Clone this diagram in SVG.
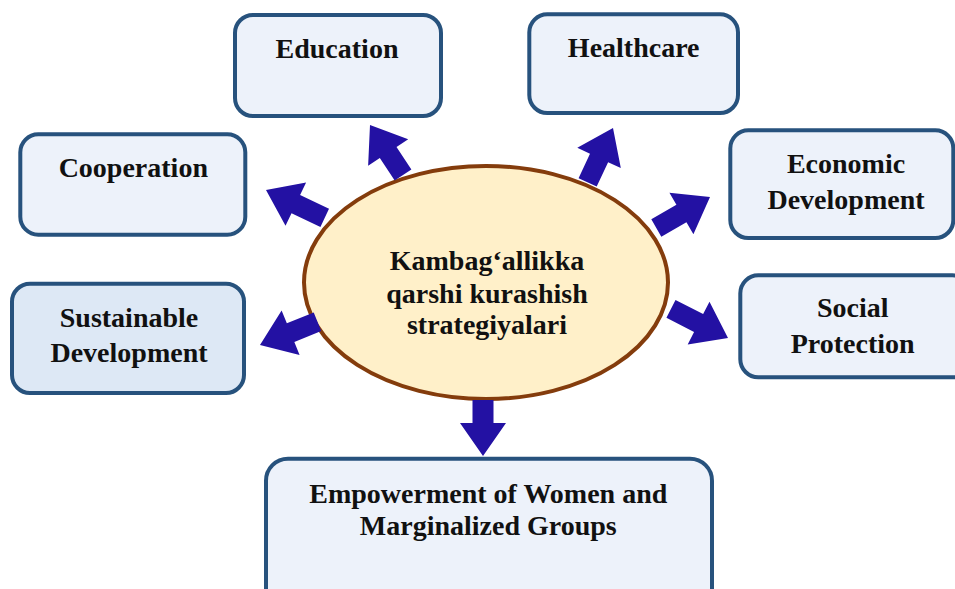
<svg xmlns="http://www.w3.org/2000/svg" width="955" height="589" viewBox="0 0 955 589">
<style>
.box{fill:#edf2fa;stroke:#27527d;stroke-width:4}
.box2{fill:#dde8f5;stroke:#27527d;stroke-width:4}
.t{font-family:"Liberation Serif","Times New Roman",serif;font-weight:bold;font-size:28px;fill:#111;text-anchor:middle}
.arr{fill:#2311a3}
</style>
<rect width="955" height="589" fill="#ffffff"/>
<g id="center">
<ellipse cx="486" cy="282.5" rx="182" ry="116.5" fill="#fff0c9" stroke="#843c0c" stroke-width="4"/>
<text class="t" x="487" y="270">Kambag‘allikka</text>
<text class="t" x="487" y="302.5">qarshi kurashish</text>
<text class="t" x="487" y="334">strategiyalari</text>
</g>
<g id="education">
<rect class="box" x="235" y="15" width="206" height="101" rx="18"/>
<text class="t" x="337" y="58">Education</text>
</g>
<g id="healthcare">
<rect class="box" x="529.3" y="14.3" width="208.7" height="98.7" rx="18"/>
<text class="t" x="633.7" y="56.7">Healthcare</text>
</g>
<g id="cooperation">
<rect class="box" x="20.3" y="134.3" width="225" height="100.4" rx="18"/>
<text class="t" x="133.3" y="176.7">Cooperation</text>
</g>
<g id="economic">
<rect class="box" x="730.3" y="130.3" width="223" height="107.7" rx="18"/>
<text class="t" x="846" y="173.3">Economic</text>
<text class="t" x="846" y="209.3">Development</text>
</g>
<g id="sustainable">
<rect class="box2" x="12" y="283.7" width="232" height="109.3" rx="18"/>
<text class="t" x="129" y="326.7">Sustainable</text>
<text class="t" x="129" y="361.7">Development</text>
</g>
<g id="social">
<rect class="box" x="740.3" y="275.3" width="230" height="102" rx="18"/>
<text class="t" x="852.7" y="316.7">Social</text>
<text class="t" x="852.7" y="353.3">Protection</text>
</g>
<g id="empowerment">
<rect class="box" x="266" y="458.7" width="446" height="160" rx="22"/>
<text class="t" x="488.3" y="503.3">Empowerment of Women and</text>
<text class="t" x="488.3" y="535">Marginalized Groups</text>
</g>
<g id="connectors">
<path class="arr" transform="translate(370,125) rotate(236.6)" d="M0,0 L-33,-24 L-33,-10 L-60,-10 L-60,10 L-33,10 L-33,24 Z"/>
<path class="arr" transform="translate(613,128) rotate(-65)" d="M0,0 L-33,-24 L-33,-10 L-60,-10 L-60,10 L-33,10 L-33,24 Z"/>
<path class="arr" transform="translate(266,190) rotate(205.4)" d="M0,0 L-33,-24 L-33,-10 L-65,-10 L-65,10 L-33,10 L-33,24 Z"/>
<path class="arr" transform="translate(710,197) rotate(-30)" d="M0,0 L-33,-24 L-33,-10 L-62,-10 L-62,10 L-33,10 L-33,24 Z"/>
<path class="arr" transform="translate(728,338) rotate(27)" d="M0,0 L-33,-24 L-33,-10 L-64,-10 L-64,10 L-33,10 L-33,24 Z"/>
<path class="arr" transform="translate(260,345) rotate(158)" d="M0,0 L-33,-24 L-33,-10 L-62,-10 L-62,10 L-33,10 L-33,24 Z"/>
<path class="arr" transform="translate(483,456) rotate(90)" d="M0,0 L-33,-23 L-33,-10.5 L-56,-10.5 L-56,10.5 L-33,10.5 L-33,23 Z"/>
</g>
</svg>
